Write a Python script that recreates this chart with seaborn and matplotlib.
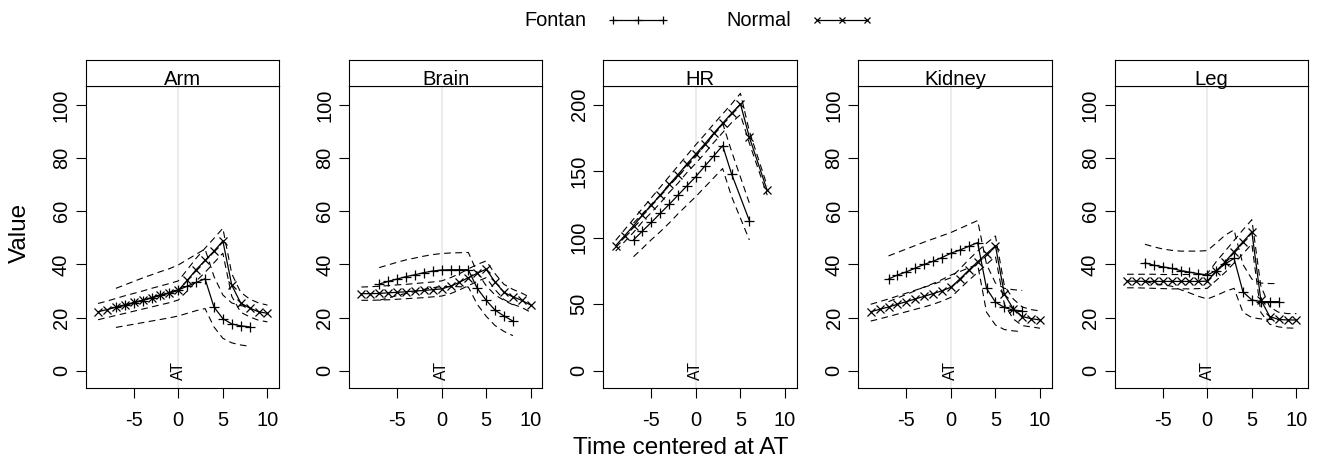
import matplotlib
matplotlib.use("Agg")
import matplotlib.pyplot as plt
import seaborn as sns
import pandas as pd
from matplotlib.lines import Line2D

# ---------------- data ----------------
panel_names = ["Arm", "Brain", "HR", "Kidney", "Leg"]
groups = ["Fontan", "Normal"]

t_fontan = [-7, -6, -5, -4, -3, -2, -1, 0, 1, 2, 3, 4, 5, 6, 7, 8]
t_normal = [-9, -8, -7, -6, -5, -4, -3, -2, -1, 0, 1, 2, 3, 4, 5, 6, 7, 8, 9, 10]
t_hr_fontan = [-7, -6, -5, -4, -3, -2, -1, 0, 1, 2, 3, 4, 6]
t_hr_normal = [-9, -8, -7, -6, -5, -4, -3, -2, -1, 0, 1, 2, 3, 4, 5, 6, 8]

arm_fontan = [23.8, 24.6, 25.5, 26.4, 27.4, 28.4, 29.4, 30.4, 31.8, 33.2, 34.6, 24.0, 19.6, 17.6, 16.9, 16.5]
arm_fontan_hi = [31.0, 32.3, 33.6, 34.9, 36.1, 37.3, 38.4, 39.8, 41.8, 43.8, 45.8, 35.5, 28.5, 25.5, 24.5, 24.0]
arm_fontan_lo = [16.3, 16.9, 17.5, 18.1, 18.7, 19.3, 19.9, 20.6, 21.6, 22.6, 23.4, 16.5, 12.2, 10.5, 9.7, 9.2]
arm_normal = [22.2, 23.0, 23.9, 24.8, 25.7, 26.6, 27.5, 28.4, 29.2, 30.2, 34.0, 38.0, 41.5, 45.0, 48.8, 32.2, 25.5, 23.6, 22.2, 21.6]
arm_normal_hi = [25.3, 26.2, 27.2, 28.2, 29.1, 30.0, 31.0, 31.9, 32.8, 33.8, 38.0, 42.3, 46.1, 49.8, 53.6, 36.5, 29.5, 27.0, 25.5, 24.7]
arm_normal_lo = [19.2, 20.0, 20.8, 21.6, 22.4, 23.2, 24.0, 24.8, 25.6, 26.6, 30.0, 33.7, 37.0, 40.6, 44.2, 28.0, 22.0, 20.3, 19.0, 18.4]

brain_fontan = [32.6, 33.6, 34.5, 35.4, 36.1, 36.9, 37.5, 37.9, 38.0, 38.0, 38.0, 31.0, 26.5, 22.8, 20.6, 18.7]
brain_fontan_hi = [38.8, 39.8, 40.8, 41.7, 42.4, 43.1, 43.7, 44.1, 44.3, 44.4, 44.5, 37.0, 32.0, 28.5, 26.5, 24.8]
brain_fontan_lo = [26.5, 27.4, 28.3, 29.1, 29.8, 30.6, 31.2, 31.7, 31.7, 31.6, 31.5, 25.0, 20.5, 17.0, 14.8, 13.2]
brain_normal = [29.0, 29.0, 29.1, 29.3, 29.5, 29.7, 30.0, 30.2, 30.5, 30.8, 31.8, 33.3, 35.0, 36.7, 38.2, 33.4, 29.5, 27.8, 26.5, 24.7]
brain_normal_hi = [31.5, 31.6, 31.8, 32.0, 32.3, 32.5, 32.8, 33.1, 33.4, 33.8, 35.0, 36.5, 38.3, 40.0, 41.3, 36.5, 32.5, 30.6, 29.2, 27.5]
brain_normal_lo = [26.5, 26.5, 26.6, 26.7, 26.9, 27.1, 27.3, 27.5, 27.8, 28.1, 29.0, 30.4, 32.0, 33.6, 35.0, 30.5, 26.8, 25.0, 23.8, 22.0]

hr_fontan = [98.3, 105.0, 111.5, 118.3, 125.0, 132.0, 139.0, 146.0, 153.8, 161.4, 169.2, 148.0, 112.8]
hr_fontan_hi = [111.0, 118.0, 125.0, 132.0, 139.0, 146.0, 153.5, 161.0, 169.5, 177.5, 186.0, 165.0, 126.0]
hr_fontan_lo = [85.7, 92.0, 98.5, 104.5, 111.0, 118.0, 124.5, 131.0, 138.0, 145.0, 152.0, 131.0, 98.3]
hr_normal = [94.0, 101.5, 109.0, 117.0, 124.5, 132.0, 140.0, 147.5, 155.5, 163.0, 170.5, 178.5, 186.0, 193.5, 200.5, 175.5, 135.5]
hr_normal_hi = [98.0, 106.0, 114.0, 122.0, 130.0, 138.0, 146.0, 154.0, 162.0, 170.0, 177.5, 185.5, 193.0, 200.5, 208.5, 180.0, 139.0]
hr_normal_lo = [90.0, 97.0, 104.0, 112.0, 119.0, 126.0, 134.0, 141.0, 149.0, 156.0, 163.5, 171.5, 179.0, 186.5, 192.5, 171.0, 132.0]

kidney_fontan = [34.5, 36.0, 37.2, 38.6, 40.0, 41.2, 42.6, 44.2, 45.4, 46.8, 48.2, 31.0, 25.8, 23.8, 22.8, 22.5]
kidney_fontan_hi = [43.2, 44.5, 45.8, 47.1, 48.4, 49.6, 50.8, 52.0, 53.5, 55.0, 56.5, 40.0, 33.0, 31.0, 30.5, 30.2]
kidney_fontan_lo = [26.0, 27.4, 28.7, 30.1, 31.5, 32.8, 34.3, 36.0, 37.3, 38.7, 40.0, 22.0, 17.2, 15.5, 15.0, 14.7]
kidney_normal = [22.2, 23.1, 24.0, 25.0, 26.0, 27.0, 28.0, 29.0, 30.1, 31.4, 34.5, 37.8, 41.0, 44.0, 47.0, 28.8, 23.3, 20.4, 19.6, 19.1]
kidney_normal_hi = [25.0, 26.0, 27.0, 28.1, 29.2, 30.3, 31.4, 32.5, 33.7, 35.0, 38.3, 41.8, 45.0, 48.0, 50.7, 32.0, 27.0, 24.0, 23.0, 22.5]
kidney_normal_lo = [18.7, 19.5, 20.4, 21.3, 22.2, 23.1, 24.0, 25.0, 26.2, 27.6, 30.8, 34.0, 37.0, 40.0, 43.0, 25.0, 19.5, 17.0, 16.5, 16.0]

leg_fontan = [40.6, 39.7, 39.1, 38.5, 37.7, 37.1, 36.5, 36.0, 37.7, 40.1, 42.3, 29.7, 26.6, 26.0, 26.0, 26.0]
leg_fontan_hi = [47.6, 46.6, 45.8, 45.3, 45.0, 45.0, 45.0, 45.2, 48.0, 51.0, 53.0, 40.0, 34.5, 33.0, 32.8, 32.8]
leg_fontan_lo = [33.6, 32.8, 32.3, 31.8, 30.5, 29.3, 28.0, 27.0, 28.3, 29.8, 31.0, 22.0, 20.0, 19.5, 19.3, 19.2]
leg_normal = [33.7, 33.7, 33.6, 33.6, 33.6, 33.6, 33.6, 33.6, 33.6, 33.7, 37.5, 41.0, 44.8, 48.5, 52.2, 26.8, 20.4, 19.3, 19.1, 19.1]
leg_normal_hi = [36.3, 36.3, 36.3, 36.3, 36.2, 36.2, 36.2, 36.2, 36.3, 36.5, 41.0, 45.0, 49.0, 53.0, 56.8, 32.0, 24.0, 22.0, 21.5, 21.5]
leg_normal_lo = [31.2, 31.2, 31.1, 31.0, 30.9, 30.8, 30.8, 30.8, 30.9, 31.0, 34.0, 37.0, 40.5, 44.0, 47.7, 22.0, 17.5, 16.5, 16.1, 16.0]

x_ticks = [-5, 0, 5, 10]
x_tick_labels = ["-5", "0", "5", "10"]
y_ticks_pct = [0, 20, 40, 60, 80, 100]
y_ticks_hr = [0, 50, 100, 150, 200]

series = {
    "Arm": {"Fontan": (t_fontan, arm_fontan, arm_fontan_hi, arm_fontan_lo),
            "Normal": (t_normal, arm_normal, arm_normal_hi, arm_normal_lo)},
    "Brain": {"Fontan": (t_fontan, brain_fontan, brain_fontan_hi, brain_fontan_lo),
              "Normal": (t_normal, brain_normal, brain_normal_hi, brain_normal_lo)},
    "HR": {"Fontan": (t_hr_fontan, hr_fontan, hr_fontan_hi, hr_fontan_lo),
           "Normal": (t_hr_normal, hr_normal, hr_normal_hi, hr_normal_lo)},
    "Kidney": {"Fontan": (t_fontan, kidney_fontan, kidney_fontan_hi, kidney_fontan_lo),
               "Normal": (t_normal, kidney_normal, kidney_normal_hi, kidney_normal_lo)},
    "Leg": {"Fontan": (t_fontan, leg_fontan, leg_fontan_hi, leg_fontan_lo),
            "Normal": (t_normal, leg_normal, leg_normal_hi, leg_normal_lo)},
}

# ---------------- style ----------------
sns.set_theme(style="ticks")
plt.rcParams["font.family"] = ["Liberation Sans", "DejaVu Sans"]
plt.rcParams["axes.edgecolor"] = "black"
plt.rcParams["axes.linewidth"] = 0.8
plt.rcParams["text.color"] = "black"
plt.rcParams["axes.labelcolor"] = "black"
plt.rcParams["xtick.color"] = "black"
plt.rcParams["ytick.color"] = "black"
plt.rcParams["legend.labelcolor"] = "black"

W, H = 1318, 471
fig = plt.figure(figsize=(W / 100, H / 100), dpi=100)

panel_left = [85.7, 349.0, 603.3, 858.3, 1114.7]
panel_w = 193.3
panel_top, panel_bot = 86.3, 388.3
strip_top = 60.0

markers = {"Fontan": "+", "Normal": "x"}
msize = {"Fontan": 7.5, "Normal": 5.5}
dash = (0, (6, 4))
tick_fs = 14.4

for name, left in zip(panel_names, panel_left):
    ax = fig.add_axes([left / W, 1 - panel_bot / H, panel_w / W, (panel_bot - panel_top) / H])
    ax.axvline(0, color="#e6e6e6", lw=1.1, zorder=0)
    for g in groups:
        t, m, hi, lo = series[name][g]
        df = pd.DataFrame({"t": t, "mean": m, "hi": hi, "lo": lo})
        for col in ("hi", "lo"):
            sns.lineplot(data=df, x="t", y=col, ax=ax, color="black", lw=0.8,
                         linestyle=dash, errorbar=None, legend=False, sort=False)
        sns.lineplot(data=df, x="t", y="mean", ax=ax, color="black", lw=0.9,
                     marker=markers[g], markersize=msize[g], markeredgewidth=0.9,
                     markeredgecolor="black", errorbar=None, legend=False, sort=False)
    ax.set_xlim(-10.39, 11.30)
    if name == "HR":
        ax.set_ylim(-13.2, 213.8)
        ax.set_yticks(y_ticks_hr)
    else:
        ax.set_ylim(-6.6, 107.0)
        ax.set_yticks(y_ticks_pct)
    ax.set_xticks(x_ticks)
    ax.set_xticklabels(x_tick_labels)
    ax.set_xlabel("")
    ax.set_ylabel("")
    ax.tick_params(axis="both", direction="out", length=7, width=0.8, colors="black",
                   labelsize=tick_fs)
    ax.tick_params(axis="x", pad=9)
    ax.tick_params(axis="y", pad=3.6, labelrotation=90)
    for lab in ax.get_yticklabels():
        lab.set_va("center")
    for sp in ax.spines.values():
        sp.set_visible(True)
        sp.set_color("black")
        sp.set_linewidth(0.8)
    ax.text(0, 0, "AT", rotation=90, ha="center", va="center", fontsize=11.3, color="black")

    sax = fig.add_axes([left / W, 1 - panel_top / H, panel_w / W, (panel_top - strip_top) / H])
    sax.set_xticks([])
    sax.set_yticks([])
    sax.set_facecolor("white")
    for sp in sax.spines.values():
        sp.set_visible(True)
        sp.set_color("black")
        sp.set_linewidth(0.8)
    sax.text(0.5, 0.06, name, ha="center", va="baseline", fontsize=14.6,
             transform=sax.transAxes, color="black")

handles = [Line2D([], [], color="black", lw=0.9, marker="+", markersize=6, markeredgewidth=0.9),
           Line2D([], [], color="black", lw=0.9, marker="x", markersize=4.5, markeredgewidth=0.9)]
fig.legend(handles=handles, labels=groups, loc="center", bbox_to_anchor=(699 / W, 1 - 21 / H),
           ncol=2, frameon=False, markerfirst=False, numpoints=3, handlelength=3.1,
           handletextpad=1.0, columnspacing=2.9, fontsize=14.4, labelcolor="black")

fig.text(20 / W, 1 - 233 / H, "Value", rotation=90, ha="center", va="center", fontsize=17.5,
         color="black")
fig.text(681 / W, 1 - 448 / H, "Time centered at AT", ha="center", va="center", fontsize=17.5,
         color="black")

fig.savefig("out.png", dpi=100)
